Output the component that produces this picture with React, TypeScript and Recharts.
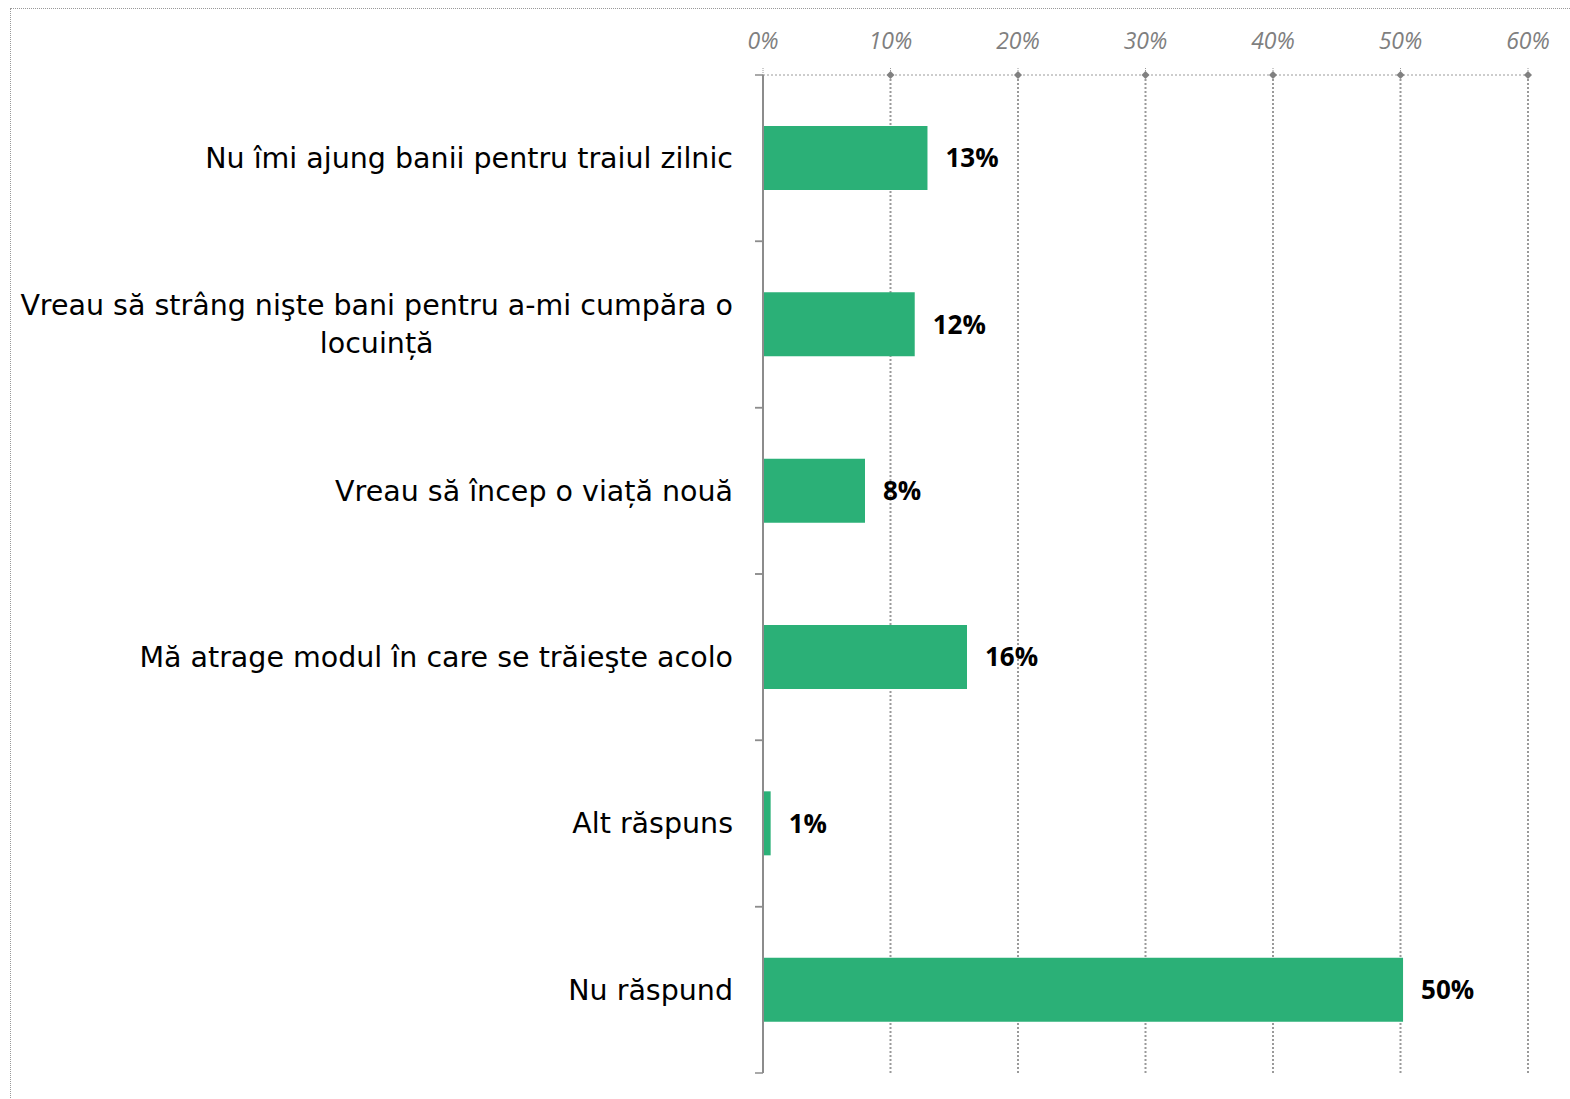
import React from 'react';
import { BarChart, Bar, XAxis, YAxis, CartesianGrid, LabelList } from 'recharts';

// answers (category axis)
const reasons = [
  'Nu îmi ajung banii pentru traiul zilnic',
  'Vreau să strâng nişte bani pentru a-mi cumpăra o\nlocuință',
  'Vreau să încep o viață nouă',
  'Mă atrage modul în care se trăieşte acolo',
  'Alt răspuns',
  'Nu răspund',
];
// share of respondents, %
const shares = [12.9, 11.9, 8.0, 16.0, 0.6, 50.2];
const xTicks = [0, 10, 20, 30, 40, 50, 60];

const data = reasons.map((name, i) => ({ name, value: shares[i] }));

const FONT = "'DejaVu Sans', sans-serif";
const LABEL_FONT = "'Open Sans', sans-serif";
const LABEL_SIZE = 28.5;
const GREEN = '#2BB077';
const GRID = '#9a9a9a';
const AXIS = '#8c8c8c';
const CAT_MARGIN = 30;
const ROW_H = 998 / 6;

let ctx: CanvasRenderingContext2D | null = null;
const measure = (s: string) => {
  if (!ctx) ctx = document.createElement('canvas').getContext('2d');
  if (!ctx) return s.length * 13;
  ctx.font = `${LABEL_SIZE}px ${FONT}`;
  return ctx.measureText(s).width;
};

const CategoryTick = (props: any) => {
  const { x, y, payload } = props;
  const lines: string[] = String(payload.value).split('\n');
  const widths = lines.map(measure);
  const block = Math.max(...widths);
  const lineH = 38;
  const y0 = y - ((lines.length - 1) * lineH) / 2;
  const half = payload.offset ? payload.offset : ROW_H / 2;
  const ax = x + CAT_MARGIN;
  return (
    <g>
      {/* separators between rows on the category axis */}
      <line x1={ax - 8} x2={ax} y1={y - half} y2={y - half} stroke={AXIS} strokeWidth={1.5} />
      <line x1={ax - 8} x2={ax} y1={y + half} y2={y + half} stroke={AXIS} strokeWidth={1.5} />
      {lines.map((l, i) => (
        <text
          key={i}
          x={lines.length > 1 ? x - block / 2 : x}
          y={y0 + i * lineH}
          dy="0.35em"
          textAnchor={lines.length > 1 ? 'middle' : 'end'}
          fontFamily={FONT}
          fontSize={LABEL_SIZE}
          fill="#000"
        >
          {l}
        </text>
      ))}
    </g>
  );
};

const TOP_TICK = 7;
const TOP_MARGIN = 14;

const PercentTick = (props: any) => {
  const { x, y, payload } = props;
  const axisY = y + TOP_TICK + TOP_MARGIN;
  return (
    <g>
      <line x1={x} x2={x} y1={axisY - TOP_TICK} y2={axisY} stroke={GRID} strokeDasharray="1 1" />
      {payload.value !== 0 && (
        <polygon
          points={`${x},${axisY - 4} ${x + 4},${axisY} ${x},${axisY + 4} ${x - 4},${axisY}`}
          fill="#808080"
        />
      )}
      <text
        x={x}
        y={y - 5}
        textAnchor="middle"
        fontFamily={LABEL_FONT}
        fontStyle="italic"
        fontSize={23}
        fill="#7f7f7f"
      >
        {`${payload.value}%`}
      </text>
    </g>
  );
};

const App: React.FC = () => {
  return (
    <div style={{ position: 'absolute', left: 0, top: 0, width: 1570, height: 1099, overflow: 'hidden', background: '#fff' }}>
      <div
        style={{
          position: 'absolute',
          left: 10,
          top: 8,
          width: 1700,
          height: 1300,
          border: '1px dotted #999',
        }}
      />
      <div style={{ position: 'absolute', left: 0, top: 0 }}>
        <BarChart
          width={1570}
          height={1099}
          data={data}
          layout="vertical"
          margin={{ top: 0, right: 42, bottom: 26, left: 0 }}
        >
          <CartesianGrid
            horizontal={false}
            stroke={GRID}
            strokeWidth={2}
            strokeDasharray="2 2"
            verticalValues={xTicks.slice(1)}
          />
          <XAxis
            type="number"
            orientation="top"
            domain={[0, 60]}
            ticks={xTicks}
            height={75}
            axisLine={{ stroke: GRID, strokeDasharray: '2 2' }}
            tickLine={false}
            tickSize={TOP_TICK}
            tickMargin={TOP_MARGIN}
            tick={<PercentTick />}
            interval={0}
          />
          <YAxis
            type="category"
            dataKey="name"
            width={763}
            axisLine={{ stroke: AXIS, strokeWidth: 2 }}
            tickLine={false}
            tickSize={0}
            tickMargin={CAT_MARGIN}
            tick={<CategoryTick />}
            interval={0}
          />
          <Bar dataKey="value" fill={GREEN} barSize={64} isAnimationActive={false}>
            <LabelList
              dataKey="value"
              position="right"
              offset={18}
              formatter={(v: any) => `${Math.round(Number(v))}%`}
              style={{ fontFamily: LABEL_FONT, fontWeight: 700, fontSize: 26, fill: '#000' }}
            />
          </Bar>
        </BarChart>
      </div>
    </div>
  );
};

export default App;
